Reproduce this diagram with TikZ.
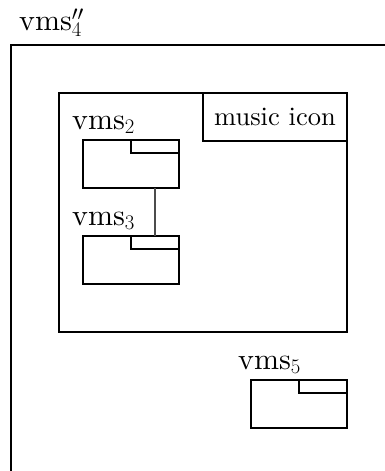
\documentclass[tikz,border=0pt]{standalone}
\usepackage{fontspec}
\newfontfamily\lmten{lmroman10-regular.otf}
\begin{document}
\begin{tikzpicture}[x=1pt,y=-1pt,
  box/.style={draw,line width=2.4pt,inner sep=0pt,outer sep=0pt},
  lbl/.style={anchor=base west,inner sep=0pt,font=\fontsize{30}{34}\lmten},
  conn/.style={draw=black!70,line width=1.2pt}]
\useasboundingbox (0,0) rectangle (385,471);
\clip (0,0) rectangle (385,471);
% outer frame
\draw[line width=2.4pt] (11,480) |- (400,45);
\node[lbl] (l4) at (19,30) {vms$''_4$};
% inner frame
\node[box,minimum width=288pt,minimum height=239pt] (frame) at (203,212.5) {};
\node[box,minimum width=144pt,minimum height=48pt,font=\fontsize{26.5}{30}\lmten] (icon) at (275,117) {music icon};
% vms2
\node[lbl] (l2) at (72,129) {vms$_2$};
\node[box,minimum width=96pt,minimum height=48pt] (p2) at (131,164) {};
\node[box,minimum width=48pt,minimum height=13pt] (t2) at (155,146.5) {};
% vms3
\node[lbl] (l3) at (72,225) {vms$_3$};
\node[box,minimum width=96pt,minimum height=48pt] (p3) at (131,260) {};
\node[box,minimum width=48pt,minimum height=13pt] (t3) at (155,242.5) {};
% vms5
\node[lbl] (l5) at (238,369) {vms$_5$};
\node[box,minimum width=96pt,minimum height=48pt] (p5) at (299,404) {};
\node[box,minimum width=48pt,minimum height=13pt] (t5) at (323,386.5) {};
% connector
\draw[conn] (t2.center |- p2.south) -- (t3.north);
\end{tikzpicture}
\end{document}
